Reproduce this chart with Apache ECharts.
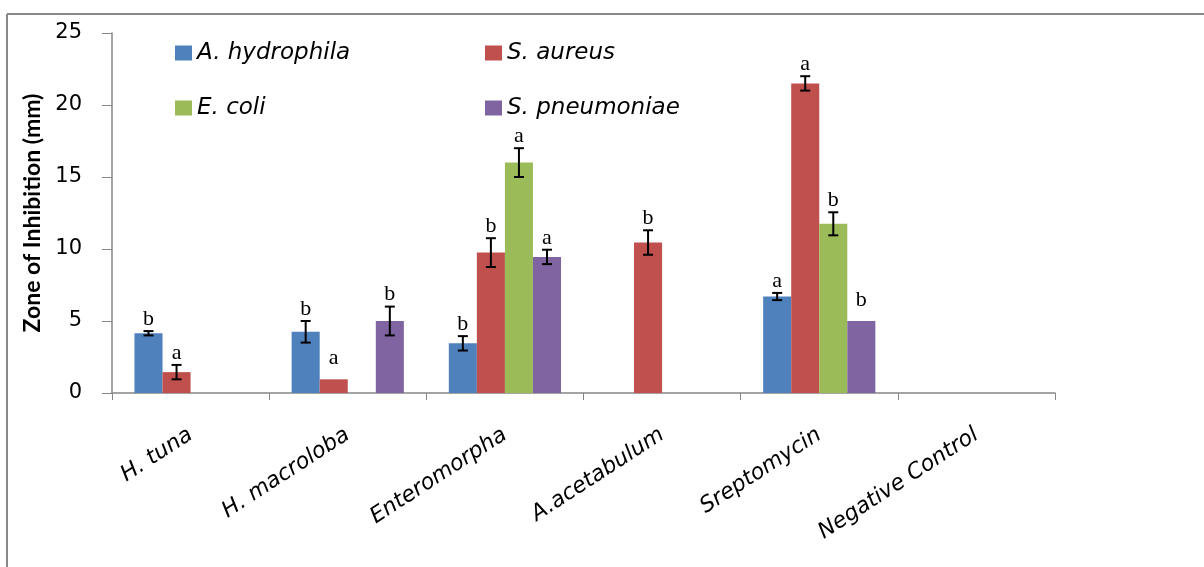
<!DOCTYPE html>
<html>
<head>
<meta charset="utf-8">
<script src="https://cdn.jsdelivr.net/npm/echarts@6/dist/echarts.min.js"></script>
<style>
  html, body { margin: 0; padding: 0; background: #fff; }
  #chart { width: 1204px; height: 567px; }
</style>
</head>
<body>
<div id="chart"></div>
<script>
// Extract / treatment groups on the x axis
const categories = ['H. tuna', 'H. macroloba', 'Enteromorpha', 'A.acetabulum', 'Sreptomycin', 'Negative Control'];
const seriesNames = ['A. hydrophila', 'S. aureus', 'E. coli', 'S. pneumoniae'];
const yTicks = [0, 5, 10, 15, 20, 25];

// Mean zone of inhibition (mm), error (±) and significance letter per organism
const hydrophila    = [4.15, 4.25, 3.45, null, 6.7, null];
const hydrophilaErr = [0.15, 0.75, 0.5, null, 0.25, null];
const hydrophilaSig = ['b', 'b', 'b', '', 'a', ''];

const aureus    = [1.45, 0.95, 9.75, 10.45, 21.5, null];
const aureusErr = [0.5, 0, 1.0, 0.85, 0.5, null];
const aureusSig = ['a', 'a', 'b', 'b', 'a', ''];

const coli    = [null, null, 16.0, null, 11.75, null];
const coliErr = [null, null, 1.0, null, 0.8, null];
const coliSig = ['', '', 'a', '', 'b', ''];

const pneumoniae    = [null, 5.0, 9.45, null, 5.0, null];
const pneumoniaeErr = [null, 1.0, 0.5, null, 0, null];
const pneumoniaeSig = ['', 'b', 'a', '', 'b', ''];

const colors = ['#4F81BD', '#C0504D', '#9BBB59', '#8064A2'];
const values = [hydrophila, aureus, coli, pneumoniae];
const errors = [hydrophilaErr, aureusErr, coliErr, pneumoniaeErr];
const letters = [hydrophilaSig, aureusSig, coliSig, pneumoniaeSig];

const CAT_GAP = 0.286;
const axisGrey = '#868686';

const chart = echarts.init(document.getElementById('chart'), null, { renderer: 'canvas' });

const barSeries = seriesNames.map((name, k) => ({
  name: name,
  type: 'bar',
  data: values[k].map(v => (v == null ? '-' : v)),
  barGap: '0%',
  barCategoryGap: (CAT_GAP * 100) + '%',
  itemStyle: { color: colors[k] },
  emphasis: { disabled: true }
}));

// Error bars and significance letters drawn on top of each bar
const errSeries = seriesNames.map((name, k) => ({
  type: 'custom',
  z: 10,
  silent: true,
  encode: { x: 0, y: 1 },
  data: values[k].map((v, i) => [i, v == null ? 0 : v, errors[k][i] || 0, v == null ? 0 : 1]),
  renderItem: function (params, api) {
    if (api.value(3) === 0) return null;
    const idx = api.value(0);
    const v = api.value(1);
    const e = api.value(2);
    const catW = api.size([1, 0])[0];
    const bw = catW * (1 - CAT_GAP) / 4;
    const x = api.coord([idx, 0])[0] + (k - 1.5) * bw;
    const yTop = api.coord([idx, v + e])[1];
    const yBot = api.coord([idx, v - e])[1];
    const cap = 5;
    const children = [];
    const ls = { stroke: '#000', lineWidth: 2 };
    if (e > 0) {
      children.push({ type: 'line', shape: { x1: x, y1: yTop, x2: x, y2: yBot }, style: ls });
      children.push({ type: 'line', shape: { x1: x - cap, y1: yTop, x2: x + cap, y2: yTop }, style: ls });
      children.push({ type: 'line', shape: { x1: x - cap, y1: yBot, x2: x + cap, y2: yBot }, style: ls });
    }
    const letter = letters[k][params.dataIndex];
    if (letter) {
      children.push({
        type: 'text',
        style: {
          x: x, y: yTop - (e > 0 ? 1 : 10),
          text: letter,
          align: 'center', verticalAlign: 'bottom',
          fontFamily: '"Liberation Serif", "DejaVu Serif", serif',
          fontSize: 22, fill: '#000'
        }
      });
    }
    return { type: 'group', children: children };
  }
}));

const legendText = {
  fontFamily: '"DejaVu Sans", sans-serif',
  fontStyle: 'italic',
  fontSize: 23,
  color: '#000',
  lineHeight: 24
};

chart.setOption({
  animation: false,
  backgroundColor: '#fff',
  grid: { left: 112, right: 149, top: 33, bottom: 174, containLabel: false },
  legend: [
    {
      data: [seriesNames[0], seriesNames[2]],
      orient: 'vertical', left: 170, top: 36, itemGap: 31,
      itemWidth: 17, itemHeight: 15, icon: 'rect',
      textStyle: legendText, selectedMode: false
    },
    {
      data: [seriesNames[1], seriesNames[3]],
      orient: 'vertical', left: 480, top: 36, itemGap: 31,
      itemWidth: 17, itemHeight: 15, icon: 'rect',
      textStyle: legendText, selectedMode: false
    }
  ],
  xAxis: {
    type: 'category',
    data: categories,
    axisLine: { lineStyle: { color: axisGrey, width: 1.5 } },
    axisTick: { show: true, length: 7, interval: 0, lineStyle: { color: axisGrey } },
    axisLabel: {
      interval: 0, rotate: 33, margin: 40,
      fontFamily: '"DejaVu Sans", sans-serif', fontStyle: 'italic',
      fontSize: 22, color: '#000'
    },
    splitLine: { show: false }
  },
  yAxis: {
    type: 'value',
    min: yTicks[0], max: yTicks[yTicks.length - 1], interval: yTicks[1] - yTicks[0],
    name: 'Zone of Inhibition (mm)',
    nameLocation: 'middle', nameRotate: 90, nameGap: 68,
    nameTextStyle: { fontFamily: 'Lato, sans-serif', fontWeight: 'bold', fontSize: 23, color: '#000' },
    axisLine: { show: true, lineStyle: { color: axisGrey, width: 1.5 } },
    axisTick: { show: true, length: 10, lineStyle: { color: axisGrey } },
    axisLabel: { margin: 30, fontFamily: '"DejaVu Sans", sans-serif', fontSize: 21, color: '#000' },
    splitLine: { show: false }
  },
  graphic: [
    { type: 'line', silent: true, shape: { x1: 7, y1: 14, x2: 1204, y2: 14 }, style: { stroke: '#888', lineWidth: 2 } },
    { type: 'line', silent: true, shape: { x1: 7, y1: 14, x2: 7, y2: 567 }, style: { stroke: '#888', lineWidth: 2 } }
  ],
  series: barSeries.concat(errSeries)
});
</script>
</body>
</html>
